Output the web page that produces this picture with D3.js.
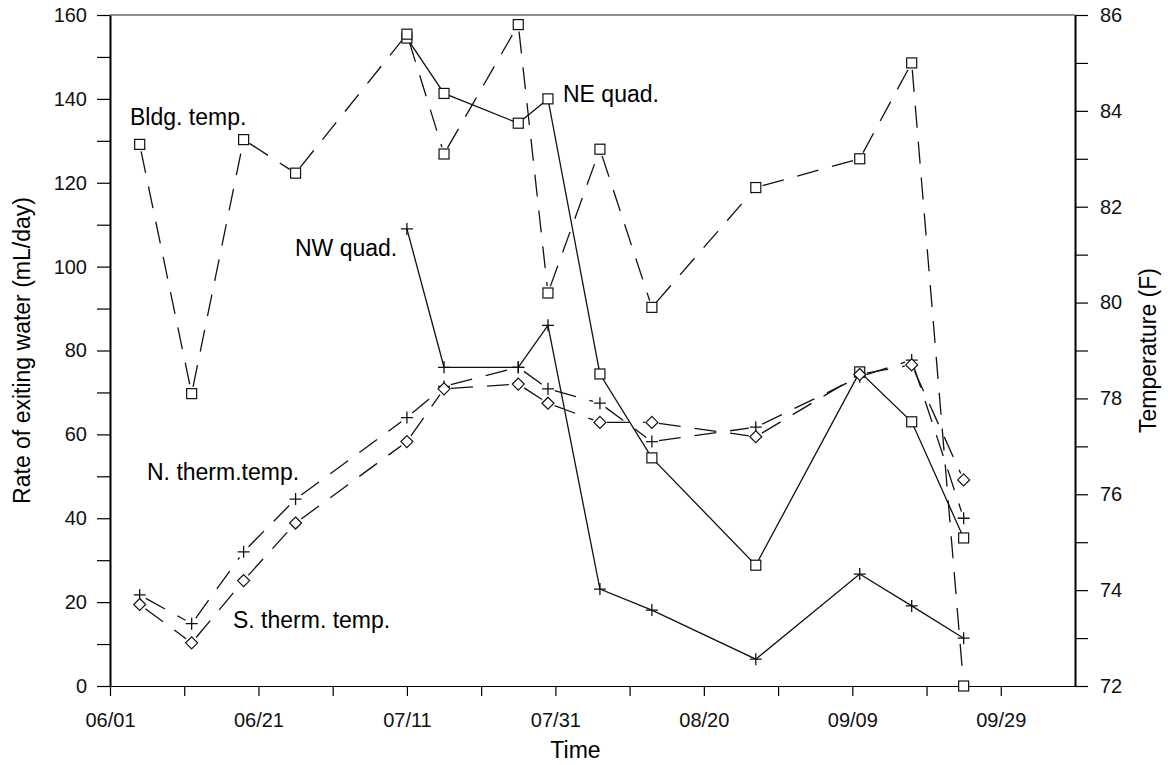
<!DOCTYPE html>
<html>
<head>
<meta charset="utf-8">
<script src="https://cdn.jsdelivr.net/npm/d3@7/dist/d3.min.js"></script>
<style>
  body { margin: 0; background: #fff; }
  svg { font-family: "Liberation Sans", Arial, Helvetica, sans-serif; }
</style>
</head>
<body>
<svg id="chart" width="1168" height="765"></svg>
<script>
/* ---------- data -------------------------------------------- */
const dates      = ["06/05","06/12","06/19","06/26","07/11","07/16","07/26",
                    "07/30","08/06","08/13","08/27","09/10","09/17","09/24"];
const bldgTemp   = [83.3, 78.1, 83.4, 82.7, 85.6, 83.1, 85.8, 80.2, 83.2, 79.9, 82.4, 83.0, 85.0, 72.0];
const nThermTemp = [73.9, 73.3, 74.8, 75.9, 77.6, 78.25, 78.65, 78.2, 77.9, 77.1, 77.4, 78.45, 78.8, 75.5];
const sThermTemp = [73.7, 72.9, 74.2, 75.4, 77.1, 78.2, 78.3, 77.9, 77.5, 77.5, 77.2, 78.5, 78.7, 76.3];

const quadDates  = ["07/11","07/16","07/26","07/30","08/06","08/13","08/27","09/10","09/17","09/24"];
const neQuad     = [154.5, 141.3, 134.2, 140.0, 74.4, 54.4, 28.8, 74.9, 63.0, 35.3];
const nwQuad     = [109, 76, 76, 86, 23.1, 18.1, 6.4, 26.7, 19.1, 11.4];

const xTicks     = ["06/01","06/11","06/21","07/01","07/11","07/21","07/31","08/10",
                    "08/20","08/30","09/09","09/19","09/29"];
const xLabelled  = ["06/01","06/21","07/11","07/31","08/20","09/09","09/29"];
const xDomain    = ["06/01","10/09"];

/* ---------- layout ------------------------------------------ */
const svg = d3.select("#chart");
const m = {left:110, right:1075, top:15, bottom:686};
const parse = d3.utcParse("%m/%d");
const fmt   = d3.utcFormat("%m/%d");

const x  = d3.scaleUtc().domain(xDomain.map(parse)).range([m.left, m.right]);
const yL = d3.scaleLinear().domain([0,160]).range([m.bottom, m.top]);
const yR = d3.scaleLinear().domain([72,86]).range([m.bottom, m.top]);

/* ---------- axes -------------------------------------------- */
const labelledSet = new Set(xLabelled);
const gx = svg.append("g")
    .attr("transform", `translate(0,${m.bottom})`)
    .call(d3.axisBottom(x)
      .tickValues(xTicks.map(parse))
      .tickFormat(d => labelledSet.has(fmt(d)) ? fmt(d) : "")
      .tickSize(10).tickSizeOuter(0).tickPadding(17));
gx.select(".domain").attr("stroke-width", 1.2);

const gl = svg.append("g")
    .attr("transform", `translate(${m.left},0)`)
    .call(d3.axisLeft(yL)
      .tickValues(d3.range(0,161,10))
      .tickFormat(d => d % 20 === 0 ? d : "")
      .tickSize(13).tickSizeOuter(0).tickPadding(10));
gl.select(".domain").attr("stroke-width", 2);

const gr = svg.append("g")
    .attr("transform", `translate(${m.right},0)`)
    .call(d3.axisRight(yR)
      .tickValues(d3.range(72,87,1))
      .tickFormat(d => d % 2 === 0 ? d : "")
      .tickSize(13).tickSizeOuter(0).tickPadding(12));
gr.select(".domain").attr("stroke-width", 2);

svg.selectAll(".tick text").attr("font-size", 20).attr("font-family", null).attr("fill", "#111");
svg.selectAll(".tick line").attr("stroke-width", 1.2);

// top frame line
svg.append("line")
    .attr("x1", m.left).attr("x2", m.right)
    .attr("y1", m.top).attr("y2", m.top)
    .attr("stroke", "#222").attr("stroke-width", 1.2);

/* ---------- axis titles ------------------------------------- */
svg.append("text")
    .attr("x", (m.left + m.right)/2 - 17).attr("y", 758)
    .attr("text-anchor", "middle").attr("font-size", 23)
    .text("Time");
svg.append("text")
    .attr("transform", `translate(30,${(m.top+m.bottom)/2}) rotate(-90)`)
    .attr("text-anchor", "middle").attr("font-size", 23)
    .text("Rate of exiting water (mL/day)");
svg.append("text")
    .attr("transform", `translate(1156,${(m.top+m.bottom)/2}) rotate(-90)`)
    .attr("text-anchor", "middle").attr("font-size", 23)
    .text("Temperature (F)");

/* ---------- series ------------------------------------------ */
const series = [
  {dates: quadDates, vals: neQuad,     y: yL, dashed: false, mark: "square"},
  {dates: quadDates, vals: nwQuad,     y: yL, dashed: false, mark: "plus"},
  {dates: dates,     vals: bldgTemp,   y: yR, dashed: true,  mark: "square"},
  {dates: dates,     vals: nThermTemp, y: yR, dashed: true,  mark: "plus"},
  {dates: dates,     vals: sThermTemp, y: yR, dashed: true,  mark: "diamond"}
];

const gLines = svg.append("g");
const gMarks = svg.append("g");
const trim = 7;

series.forEach(s => {
  const pts = s.dates.map((d,i) => [x(parse(d)), s.y(s.vals[i])]);
  if (!s.dashed) {
    gLines.append("path")
        .attr("d", d3.line()(pts))
        .attr("fill", "none").attr("stroke", "#111").attr("stroke-width", 1.3);
  } else {
    // dashed segments leave a small gap at each marker
    d3.pairs(pts).forEach(([a,b]) => {
      const dx = b[0]-a[0], dy = b[1]-a[1], len = Math.hypot(dx,dy);
      if (len < 2*trim + 2) return;
      const ux = dx/len, uy = dy/len;
      gLines.append("line")
          .attr("x1", a[0]+ux*trim).attr("y1", a[1]+uy*trim)
          .attr("x2", b[0]-ux*trim).attr("y2", b[1]-uy*trim)
          .attr("stroke", "#111").attr("stroke-width", 1.3)
          .attr("stroke-dasharray", "22,14");
    });
  }

  pts.forEach(([px,py]) => {
    if (s.mark === "square") {
      gMarks.append("rect")
          .attr("x", px-5).attr("y", py-5).attr("width", 10).attr("height", 10)
          .attr("fill", "#fff").attr("stroke", "#111").attr("stroke-width", 1.2);
    } else if (s.mark === "diamond") {
      gMarks.append("path")
          .attr("d", `M${px},${py-6}L${px+6},${py}L${px},${py+6}L${px-6},${py}Z`)
          .attr("fill", "#fff").attr("stroke", "#111").attr("stroke-width", 1.2);
    } else {
      gMarks.append("path")
          .attr("d", `M${px-6},${py}H${px+6}M${px},${py-6}V${py+6}`)
          .attr("stroke", "#111").attr("stroke-width", 1.3);
    }
  });
});

/* ---------- annotations ------------------------------------- */
const notes = [
  {text: "Bldg. temp.",      x: 130, y: 125},
  {text: "NE quad.",         x: 563, y: 102},
  {text: "NW quad.",         x: 295, y: 256},
  {text: "N. therm.temp.",   x: 147, y: 480},
  {text: "S. therm. temp.",  x: 233, y: 628}
];
svg.append("g").selectAll("text")
  .data(notes)
  .join("text")
    .attr("x", d => d.x).attr("y", d => d.y)
    .attr("font-size", 23)
    .text(d => d.text);
</script>
</body>
</html>
